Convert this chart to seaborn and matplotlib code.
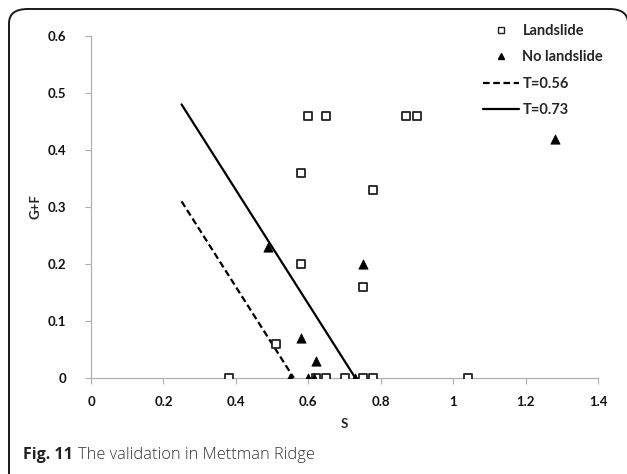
import matplotlib
matplotlib.use("Agg")
import matplotlib.pyplot as plt
from matplotlib.patches import FancyBboxPatch
from matplotlib.lines import Line2D
import seaborn as sns
import pandas as pd

# Data
landslide_s = [0.38, 0.51, 0.58, 0.58, 0.60, 0.65, 0.62, 0.65, 0.70, 0.75, 0.78, 0.78, 0.75, 0.87, 0.90, 1.04]
landslide_gf = [0.00, 0.06, 0.36, 0.20, 0.46, 0.46, 0.00, 0.00, 0.00, 0.00, 0.00, 0.33, 0.16, 0.46, 0.46, 0.00]
nolandslide_s = [0.49, 0.58, 0.62, 0.75, 1.28, 0.55, 0.60, 0.615, 0.73]
nolandslide_gf = [0.23, 0.07, 0.03, 0.20, 0.42, 0.00, 0.00, 0.00, 0.00]
t056_s = [0.25, 0.56]
t056_gf = [0.31, 0.00]
t073_s = [0.25, 0.73]
t073_gf = [0.48, 0.00]
x_ticks = [0, 0.2, 0.4, 0.6, 0.8, 1.0, 1.2, 1.4]
x_ticklabels = ["0", "0.2", "0.4", "0.6", "0.8", "1", "1.2", "1.4"]
y_ticks = [0, 0.1, 0.2, 0.3, 0.4, 0.5, 0.6]
y_ticklabels = ["0", "0.1", "0.2", "0.3", "0.4", "0.5", "0.6"]

sns.set_theme(style="white")
plt.rcParams["font.family"] = ["Lato", "DejaVu Sans"]

df_pts = pd.DataFrame({
    "S": landslide_s + nolandslide_s,
    "GF": landslide_gf + nolandslide_gf,
    "cls": ["Landslide"] * len(landslide_s) + ["No landslide"] * len(nolandslide_s),
})
df_lines = pd.DataFrame({
    "S": t056_s + t073_s,
    "GF": t056_gf + t073_gf,
    "T": ["T=0.56"] * 2 + ["T=0.73"] * 2,
})

fig = plt.figure(figsize=(6.27, 4.74), dpi=100)
ax = fig.add_axes([91 / 627, 1 - 378 / 474, (598 - 91) / 627, (378 - 36) / 474])

sns.lineplot(data=df_lines, x="S", y="GF", hue="T", style="T",
             palette={"T=0.56": "black", "T=0.73": "black"},
             dashes={"T=0.56": (3, 1.6), "T=0.73": ""},
             linewidth=1.6, ax=ax, legend=False, sort=False, estimator=None)

sq = df_pts[df_pts["cls"] == "Landslide"]
tr = df_pts[df_pts["cls"] == "No landslide"]
sns.scatterplot(data=sq, x="S", y="GF", marker="s", s=34, facecolor="white",
                edgecolor="#222222", linewidth=1.3, ax=ax, zorder=3, legend=False)
sns.scatterplot(data=tr, x="S", y="GF", marker="^", s=45, color="black",
                edgecolor="black", linewidth=0.5, ax=ax, zorder=4, legend=False)

ax.set_xlim(0, 1.4)
ax.set_ylim(0, 0.6)
ax.set_xticks(x_ticks)
ax.set_xticklabels(x_ticklabels)
ax.set_yticks(y_ticks)
ax.set_yticklabels(y_ticklabels)
for lab in ax.get_xticklabels() + ax.get_yticklabels():
    lab.set_fontweight("bold")
    lab.set_fontsize(9.5)
    lab.set_color("#111111")
ax.tick_params(axis="both", which="both", length=4, width=0.8, color="#b0b0b0",
               direction="out", bottom=True, left=True)
ax.tick_params(axis="x", pad=9)
ax.tick_params(axis="y", pad=14)
for side in ["top", "right"]:
    ax.spines[side].set_visible(False)
for side in ["left", "bottom"]:
    ax.spines[side].set_color("#b0b0b0")
    ax.spines[side].set_linewidth(0.9)
ax.set_xlabel("S", fontsize=9.5, fontweight="bold", labelpad=7)
ax.set_ylabel("G+F", fontsize=9.5, fontweight="bold", labelpad=4)
ax.patch.set_alpha(0)

handles = [
    Line2D([], [], marker="s", linestyle="none", markerfacecolor="white",
           markeredgecolor="#222222", markeredgewidth=1.0, markersize=5),
    Line2D([], [], marker="^", linestyle="none", color="black", markersize=5),
    Line2D([], [], color="black", linestyle=(0, (3, 1.6)), linewidth=1.6),
    Line2D([], [], color="black", linewidth=1.6),
]
labels = ["Landslide", "No landslide", "T=0.56", "T=0.73"]
leg = ax.legend(handles, labels, loc="upper left",
                bbox_to_anchor=(483 / 627, 1 - 24 / 474), bbox_transform=fig.transFigure,
                frameon=False, handlelength=2.5, handletextpad=0.2,
                labelspacing=0.85, borderpad=0, borderaxespad=0,
                prop={"weight": "bold", "size": 10.5})

fig.text(23 / 627, 1 - 459 / 474, "Fig. 11", fontsize=11.5, fontweight="bold",
         family=["Open Sans", "DejaVu Sans"], va="baseline", ha="left", color="#222222")
fig.text(78 / 627, 1 - 459 / 474, "The validation in Mettman Ridge", fontsize=11.8,
         family=["Open Sans", "DejaVu Sans"], fontweight="light", va="baseline", ha="left", color="#333333")

border = FancyBboxPatch((9 / 627, -20 / 474), (628 - 9) / 627, (474 - 9 + 20) / 474,
                        boxstyle="round,pad=0,rounding_size=0.03",
                        transform=fig.transFigure, facecolor="none",
                        edgecolor="#1a1a1a", linewidth=1.4, clip_on=False)
fig.patches.append(border)

fig.savefig("out.png", dpi=100)
